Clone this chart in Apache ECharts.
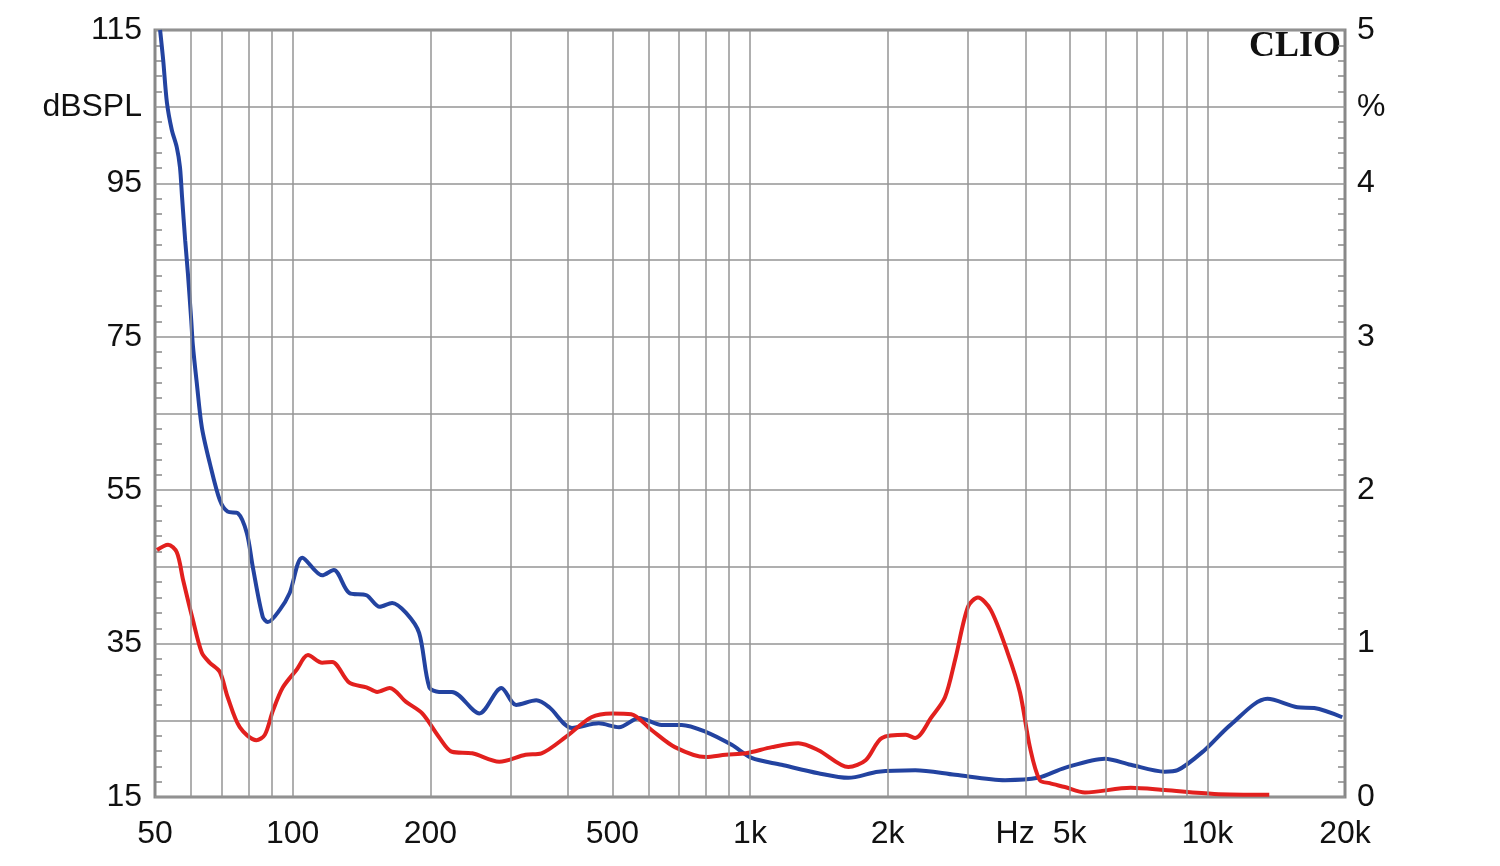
<!DOCTYPE html>
<html>
<head>
<meta charset="utf-8">
<script src="https://cdn.jsdelivr.net/npm/echarts@6/dist/echarts.min.js"></script>
<style>
  html, body { margin: 0; padding: 0; background: #fff; }
  #chart { width: 1500px; height: 866px; }
</style>
</head>
<body>
<div id="chart"></div>
<script>
// frequency response (dBSPL, left axis)
const splFreq = [51.3, 52.1, 53.1, 54.4, 55.8, 56.7, 57.3, 58.2, 59.0, 60.0, 60.5, 61.7, 63.3, 65.9, 69.3, 72.1, 75.9, 79.4, 81.8, 86.0, 88.2, 93.7, 98.5, 105, 116, 123, 133, 145, 155, 165, 177, 189, 199, 209, 223, 256, 286, 308, 341, 364, 408, 467, 517, 572, 641, 709, 800, 912, 1008, 1172, 1411, 1641, 1908, 2298, 2809, 3611, 4261, 4880, 5970, 6800, 8066, 8610, 9860, 11240, 13535, 15735, 17135, 19726];
const splValue = [115, 111.1, 105.5, 102.0, 99.7, 97.1, 93.2, 87.6, 83.3, 77.2, 73.9, 69.0, 63.2, 58.5, 53.7, 52.2, 52.0, 49.4, 45.0, 38.5, 37.8, 39.4, 41.6, 46.2, 43.9, 44.6, 41.6, 41.3, 39.8, 40.3, 39.0, 36.4, 29.3, 28.7, 28.7, 25.9, 29.2, 27.0, 27.6, 26.7, 24.0, 24.6, 24.1, 25.3, 24.4, 24.4, 23.5, 21.8, 20.1, 19.2, 18.1, 17.5, 18.3, 18.5, 17.9, 17.2, 17.5, 18.8, 20.0, 19.2, 18.3, 18.5, 21.1, 24.4, 27.8, 26.7, 26.6, 25.4];

// distortion (%, right axis)
const thdFreq = [50.5, 53.4, 55.8, 57.6, 60.5, 63.3, 65.9, 69.3, 72.1, 76.6, 83.3, 86.9, 90.6, 95.2, 102, 108, 116, 122, 133, 145, 153, 163, 177, 192, 209, 223, 247, 283, 323, 350, 395, 450, 499, 550, 610, 685, 800, 885, 980, 1117, 1275, 1411, 1641, 1790, 1943, 2191, 2298, 2493, 2669, 2809, 2997, 3150, 3360, 3659, 3895, 4093, 4300, 4520, 4880, 5400, 6800, 8066, 10360, 13660];
const thdValue = [1.61, 1.645, 1.595, 1.415, 1.155, 0.94, 0.875, 0.815, 0.65, 0.455, 0.37, 0.405, 0.565, 0.715, 0.83, 0.925, 0.875, 0.88, 0.745, 0.715, 0.685, 0.71, 0.62, 0.545, 0.39, 0.295, 0.285, 0.23, 0.275, 0.285, 0.39, 0.52, 0.545, 0.54, 0.435, 0.325, 0.26, 0.275, 0.285, 0.325, 0.35, 0.305, 0.195, 0.24, 0.385, 0.405, 0.385, 0.52, 0.65, 0.895, 1.24, 1.30, 1.22, 0.94, 0.68, 0.325, 0.11, 0.09, 0.065, 0.03, 0.06, 0.045, 0.02, 0.015];

const gridFreqs = [60, 70, 80, 90, 100, 200, 300, 400, 500, 600, 700, 800, 900, 1000, 2000, 3000, 4000, 5000, 6000, 7000, 8000, 9000, 10000];
const freqLabels = [50, 100, 200, 500, 1000, 2000, 3800, 5000, 10000, 20000];

const chart = echarts.init(document.getElementById("chart"));
const gridColor = "#959595";
const frameColor = "#888888";
const labelFont = { color: "#111", fontSize: 32, fontFamily: "Liberation Sans, Arial, sans-serif" };

chart.setOption({
  animation: false,
  backgroundColor: "#fff",
  grid: {
    left: 155, right: 155, top: 30, bottom: 69,
    show: true, borderColor: frameColor, borderWidth: 3,
  },
  xAxis: {
    type: "log",
    logBase: 10,
    min: 50,
    max: 20000,
    axisLine: { show: false },
    axisTick: { show: false },
    splitLine: { show: false },
    axisLabel: Object.assign({
      margin: 21,
      customValues: freqLabels,
      formatter: function (v) {
        if (Math.abs(v - 3800) < 1) return "Hz";
        return v >= 1000 ? v / 1000 + "k" : String(v);
      },
    }, labelFont),
  },
  yAxis: [
    {
      type: "value",
      min: 15,
      max: 115,
      interval: 10,
      axisLine: { show: false },
      axisTick: { show: false, inside: true },
      minorTick: { show: true, splitNumber: 5, length: 7, lineStyle: { color: frameColor, width: 1.5 } },
      splitLine: { show: true, lineStyle: { color: gridColor, width: 1.5 } },
      axisLabel: Object.assign({
        margin: 13,
        formatter: function (v) {
          if (v === 105) return "dBSPL";
          return (v - 15) % 20 === 0 ? String(v) : "";
        },
      }, labelFont),
    },
    {
      type: "value",
      min: 0,
      max: 5,
      interval: 0.5,
      position: "right",
      axisLine: { show: false },
      axisTick: { show: false, inside: true },
      minorTick: { show: true, splitNumber: 5, length: 7, lineStyle: { color: frameColor, width: 1.5 } },
      splitLine: { show: false },
      axisLabel: Object.assign({
        margin: 12,
        formatter: function (v) {
          if (Math.abs(v - 4.5) < 1e-6) return "%";
          return Math.abs(v - Math.round(v)) < 1e-6 ? String(Math.round(v)) : "";
        },
      }, labelFont),
    },
  ],
  graphic: [
    {
      type: "text",
      right: 159,
      top: 29,
      style: {
        text: "CLIO",
        fill: "#111",
        font: "bold 36px 'Liberation Serif', 'DejaVu Serif', serif",
      },
    },
  ],
  series: [
    {
      // vertical grid lines at the log decades
      type: "line",
      data: [],
      z: 1,
      silent: true,
      markLine: {
        silent: true,
        symbol: ["none", "none"],
        label: { show: false },
        lineStyle: { color: gridColor, width: 1.5, type: "solid" },
        data: gridFreqs.map((f) => ({ xAxis: f })),
        animation: false,
      },
    },
    {
      name: "SPL",
      type: "line",
      yAxisIndex: 0,
      z: 3,
      smooth: 0.3,
      showSymbol: false,
      lineStyle: { color: "#2343a0", width: 4 },
      data: splFreq.map((f, i) => [f, splValue[i]]),
    },
    {
      name: "THD",
      type: "line",
      yAxisIndex: 1,
      z: 4,
      smooth: 0.3,
      showSymbol: false,
      lineStyle: { color: "#e2201e", width: 4 },
      data: thdFreq.map((f, i) => [f, thdValue[i]]),
    },
  ],
});
</script>
</body>
</html>
